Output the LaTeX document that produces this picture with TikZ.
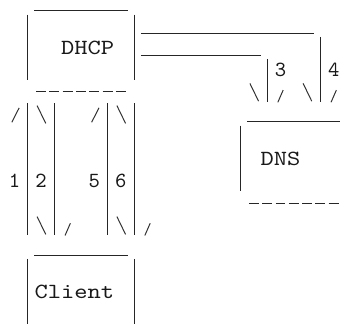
\documentclass[tikz,border=0pt]{standalone}
\usepackage{graphicx}
\newcommand\cw[1]{\scalebox{1.17}[1]{#1}}
\begin{document}
\begin{tikzpicture}[
  bar/.style={line width=0.5pt, black!85},
  uline/.style={line width=0.5pt, black!85},
  dashln/.style={line width=0.6pt, black!85, dash pattern=on 4.99pt off 1.66pt},
  glyph/.style={line width=0.5pt, black!80},
  lbl/.style={inner sep=0pt, text=black!90, font=\ttfamily\fontsize{10.8}{10.8}\selectfont},
  bsl/.pic={\draw[glyph] (-0.3,-0.4) -- (0.35,0.4);},
  fslup/.pic={\draw[glyph] (-0.2,0.35) -- (0.35,-0.3);},
  fsldn/.pic={\draw[glyph] (-0.2,0.45) -- (0.2,-0.1);}
]
\useasboundingbox (0,0) rectangle (173.5pt,-166.5pt);
\clip (0,0) rectangle (173.5pt,-166.5pt);
\begin{scope}[shift={(7.25pt,-1.75pt)}, x=6.65pt, y=-11.1pt]
  % labels
  \node[lbl] (dhcp) at (5.5,2) {\cw{DHCP}};
  \node[lbl] (dns) at (20,7) {\cw{DNS}};
  \node[lbl] (client) at (4.5,13) {\cw{Client}};
  \node[lbl] (n1) at (0,8) {1};
  \node[lbl] (n2) at (2,8) {2};
  \node[lbl] (n5) at (6,8) {5};
  \node[lbl] (n6) at (8,8) {6};
  \node[lbl] (n3) at (20,3) {3};
  \node[lbl] (n4) at (24,3) {4};
  % underscore lines
  \draw[uline] (1.5,0.33) -- (8.5,0.33);
  \draw[uline] (9.5,1.33) -- (22.5,1.33);
  \draw[uline] (9.5,2.33) -- (18.5,2.33);
  \draw[uline] (17.5,5.33) -- (24.5,5.33);
  \draw[uline] (1.5,11.33) -- (8.5,11.33);
  % dashed lines
  \draw[dashln] (1.625,3.95) -- (8.375,3.95);
  \draw[dashln] (17.625,9) -- (24.375,9);
  % DHCP box sides
  \draw[bar] (1,0.5) -- (1,3.45);
  \draw[bar] (9,0.5) -- (9,3.45);
  % DHCP to DNS connectors
  \draw[bar] (23,1.5) -- (23,4.45);
  \draw[bar] (19,2.5) -- (19,4.45);
  % DHCP to Client connectors
  \draw[bar] (1,4.5) -- (1,10.45);
  \draw[bar] (3,4.5) -- (3,10.45);
  \draw[bar] (7,4.5) -- (7,10.45);
  \draw[bar] (9,4.5) -- (9,10.45);
  % DNS box sides
  \draw[bar] (17,5.5) -- (17,8.45);
  \draw[bar] (25,5.5) -- (25,8.45);
  % Client box sides
  \draw[bar] (1,11.5) -- (1,14.45);
  \draw[bar] (9,11.5) -- (9,14.45);
  % arrow heads into DNS
  \pic at (18,4) {bsl};
  \pic at (20,4) {fsldn};
  \pic at (22,4) {bsl};
  \pic at (24,4) {fsldn};
  % arrow heads into DHCP
  \pic at (0,5) {fslup};
  \pic at (2,5) {bsl};
  \pic at (6,5) {fslup};
  \pic at (8,5) {bsl};
  % arrow heads into Client
  \pic at (2,10) {bsl};
  \pic at (4,10) {fsldn};
  \pic at (8,10) {bsl};
  \pic at (10,10) {fsldn};
\end{scope}
\end{tikzpicture}
\end{document}
